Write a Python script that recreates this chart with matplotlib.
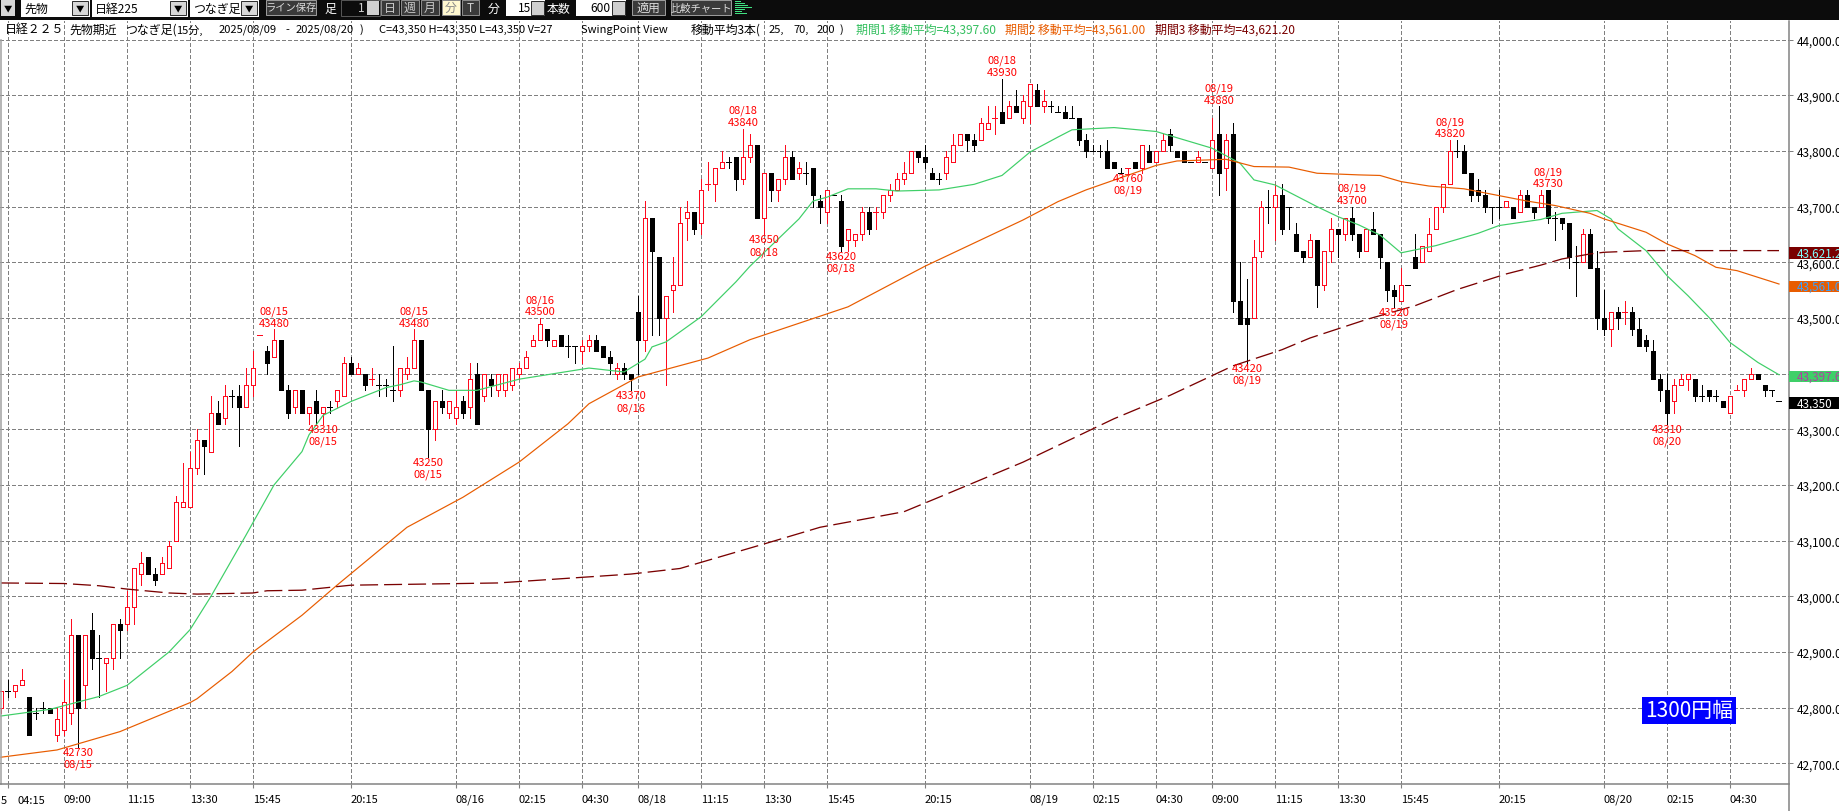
import matplotlib
matplotlib.use('Agg')
import matplotlib.pyplot as plt
from matplotlib.patches import Rectangle
import numpy as np

plt.rcParams['font.family'] = ['Noto Sans CJK JP', 'DejaVu Sans']
plt.rcParams['lines.scale_dashes'] = False

# ── 15 minute bars, first one sits just left of the first grid line ──
opens = [
    42800,42830,42830,42840,42820,42790,42800,42800,42750,42760,
    42790,42930,42840,42940,42890,42880,42890,42950,42950,42980,
    43040,43070,43040,43040,43050,43100,43160,43160,43230,43280,
    43260,43330,43320,43360,43360,43340,43380,43470,43440,43430,
    43460,43370,43340,43370,43330,43350,43330,43340,43350,43360,
    43420,43400,43400,43390,43380,43380,43370,43370,43400,43410,
    43460,43370,43300,43350,43330,43320,43350,43340,43400,43360,
    43390,43370,43370,43380,43400,43410,43450,43460,43480,43450,
    43470,43450,43450,43440,43450,43460,43450,43430,43400,43410,
    43400,43510,43460,43680,43610,43500,43550,43560,43680,43690,
    43670,43740,43740,43770,43780,43790,43750,43790,43810,43680,
    43760,43730,43750,43790,43760,43760,43770,43710,43690,43720,
    43710,43640,43640,43650,43690,43690,43690,43720,43730,43750,
    43760,43800,43790,43760,43750,43760,43780,43810,43830,43820,
    43820,43840,43860,43870,43860,43880,43860,43880,43910,43880,
    43880,43870,43870,43860,43860,43820,43800,43800,43800,43780,
    43760,43770,43780,43770,43800,43780,43800,43830,43800,43800,
    43780,43780,43780,43770,43830,43770,43830,43530,43500,43500,
    43620,43700,43700,43720,43700,43650,43620,43610,43640,43560,
    43620,43660,43650,43680,43650,43620,43660,43650,43600,43550,
    43530,43560,43610,43600,43620,43660,43700,43740,43800,43800,
    43760,43730,43720,43700,43700,43700,43700,43690,43720,43700,
    43700,43730,43680,43680,43670,43600,43600,43650,43590,43500,
    43480,43510,43510,43510,43480,43460,43440,43390,43370,43350,
    43380,43390,43390,43360,43370,43360,43350,43330,43370,43370,
    43390,43400,43380,43370,43350,
]
highs = [
    42830,42850,42840,42870,42820,42800,42810,42800,42800,42850,
    42960,42930,42930,42970,42930,42890,42950,42960,43010,43050,
    43080,43070,43050,43070,43100,43180,43240,43260,43300,43280,
    43360,43350,43380,43370,43380,43410,43440,43470,43450,43480,
    43460,43380,43370,43370,43340,43370,43340,43350,43370,43430,
    43430,43420,43400,43410,43400,43390,43450,43410,43430,43480,
    43460,43370,43350,43370,43350,43370,43360,43420,43420,43400,
    43400,43400,43400,43410,43420,43440,43470,43500,43480,43460,
    43470,43470,43450,43460,43470,43470,43450,43440,43420,43420,
    43400,43540,43710,43680,43610,43540,43610,43700,43710,43690,
    43750,43780,43770,43800,43790,43790,43840,43830,43810,43760,
    43760,43750,43810,43800,43780,43780,43770,43720,43730,43720,
    43720,43660,43650,43700,43700,43700,43720,43740,43760,43780,
    43800,43800,43810,43770,43760,43800,43830,43830,43830,43830,
    43860,43880,43880,43930,43890,43910,43900,43920,43920,43910,
    43890,43880,43880,43880,43860,43830,43810,43810,43820,43780,
    43770,43770,43780,43810,43810,43800,43830,43840,43800,43800,
    43780,43800,43780,43860,43880,43830,43850,43600,43570,43640,
    43710,43730,43740,43740,43700,43670,43620,43650,43640,43620,
    43680,43660,43680,43700,43650,43660,43690,43650,43600,43560,
    43590,43560,43650,43630,43680,43700,43740,43820,43820,43810,
    43760,43750,43730,43700,43730,43710,43700,43730,43730,43700,
    43730,43730,43690,43680,43670,43630,43660,43660,43620,43550,
    43510,43520,43530,43520,43500,43470,43460,43400,43400,43390,
    43400,43400,43390,43380,43370,43370,43350,43360,43380,43390,
    43410,43400,43380,43370,43350,
]
lows = [
    42790,42820,42820,42840,42750,42780,42790,42790,42740,42750,
    42770,42730,42800,42870,42820,42830,42870,42890,42940,42950,
    43020,43040,43020,43040,43050,43100,43160,43160,43220,43220,
    43260,43310,43310,43340,43270,43340,43360,43470,43400,43430,
    43370,43320,43330,43330,43310,43310,43310,43330,43340,43360,
    43400,43400,43370,43380,43360,43360,43350,43360,43390,43410,
    43370,43250,43280,43330,43320,43310,43320,43320,43310,43350,
    43360,43360,43360,43370,43390,43410,43450,43460,43450,43450,
    43450,43430,43420,43420,43440,43440,43430,43400,43390,43390,
    43370,43400,43440,43470,43470,43380,43510,43560,43640,43650,
    43650,43730,43710,43770,43770,43730,43740,43780,43680,43650,
    43710,43710,43740,43750,43750,43740,43700,43670,43670,43720,
    43620,43620,43630,43640,43650,43660,43680,43710,43730,43740,
    43760,43780,43770,43750,43740,43750,43780,43810,43800,43800,
    43820,43840,43830,43850,43860,43870,43850,43850,43880,43870,
    43870,43870,43860,43860,43810,43790,43800,43790,43770,43770,
    43760,43760,43770,43760,43780,43780,43800,43800,43790,43780,
    43780,43780,43780,43770,43720,43730,43510,43490,43420,43500,
    43610,43670,43640,43650,43660,43620,43600,43610,43520,43550,
    43600,43610,43640,43640,43610,43620,43650,43590,43530,43520,
    43530,43560,43590,43600,43620,43660,43690,43740,43790,43760,
    43710,43710,43690,43670,43680,43700,43680,43690,43700,43680,
    43700,43670,43640,43660,43590,43540,43600,43590,43480,43470,
    43450,43480,43490,43470,43450,43440,43390,43350,43310,43330,
    43380,43370,43350,43350,43350,43350,43340,43330,43370,43360,
    43390,43390,43360,43360,43350,
]
closes = [
    42830,42830,42840,42850,42750,42790,42800,42790,42780,42810,
    42930,42800,42930,42890,42890,42890,42950,42940,42980,43050,
    43060,43040,43030,43060,43090,43170,43170,43230,43280,43270,
    43330,43310,43360,43360,43340,43380,43410,43470,43420,43460,
    43370,43330,43370,43330,43340,43330,43340,43340,43370,43420,
    43400,43410,43380,43390,43380,43380,43370,43410,43410,43460,
    43370,43300,43350,43340,43350,43340,43330,43390,43310,43400,
    43380,43400,43400,43410,43410,43430,43460,43490,43460,43460,
    43450,43450,43450,43450,43460,43440,43430,43420,43410,43400,
    43390,43460,43680,43620,43500,43540,43560,43670,43690,43660,
    43730,43740,43770,43780,43780,43750,43790,43810,43680,43760,
    43730,43750,43790,43750,43770,43760,43720,43700,43730,43720,
    43630,43660,43650,43690,43660,43690,43720,43730,43750,43760,
    43800,43790,43780,43750,43750,43790,43810,43830,43820,43810,
    43850,43850,43860,43850,43880,43870,43890,43920,43880,43890,
    43880,43870,43860,43860,43820,43800,43800,43800,43770,43770,
    43760,43770,43770,43810,43780,43800,43820,43810,43790,43780,
    43780,43790,43780,43820,43760,43820,43530,43490,43490,43610,
    43700,43700,43720,43660,43700,43620,43610,43640,43560,43620,
    43660,43650,43680,43650,43620,43660,43650,43610,43550,43540,
    43560,43560,43590,43630,43650,43700,43740,43800,43800,43760,
    43720,43720,43700,43700,43700,43710,43680,43720,43700,43690,
    43720,43680,43680,43670,43610,43600,43650,43590,43500,43480,
    43510,43500,43510,43480,43450,43450,43390,43370,43330,43380,
    43390,43400,43360,43360,43360,43360,43340,43360,43370,43390,
    43400,43390,43370,43370,43350,
]
red_doji = [36, 52, 100, 124, 141, 160, 231, 247]

# ── moving averages at these bars ──
ma25_idx = [-1,6,13,17,23,26,29,34,38,42,43,45,49,51,54,56,58,59,63,67,73,83,88,91,92,94,99,104,106,
            113,115,117,120,124,127,133,138,142,146,150,152,158,164,168,172,176,178,181,187,190,193,
            196,199,204,210,213,219,222,227,229,230,234,237,240,243,246,250,253]
ma25_val = [42785,42797,42820,42840,42900,42940,43000,43110,43200,43260,43290,43325,43350,43360,43375,43380,43387,43385,43370,43370,43390,43410,43403,43426,43448,43457,43502,43565,43593,
            43678,43710,43717,43732,43732,43728,43730,43740,43756,43798,43825,43838,43842,43835,43820,43805,43778,43748,43739,43700,43682,43667,
            43649,43617,43630,43652,43666,43677,43688,43693,43678,43660,43621,43576,43540,43501,43456,43420,43398]
ma70_idx = [-1,7,16,26,27,32,35,42,47,57,65,73,80,83,90,100,106,120,131,145,150,154,164,167,174,178,183,187,
            193,196,199,203,208,217,221,226,228,234,237,241,244,247,250,253]
ma70_val = [42711,42724,42757,42809,42816,42865,42900,42966,43020,43124,43178,43241,43310,43346,43394,43428,43461,43520,43593,43676,43709,43730,43774,43782,43785,43772,43771,43760,
            43757,43756,43745,43737,43732,43710,43702,43688,43678,43654,43633,43612,43591,43585,43573,43561]
ma200_idx = [-1,8,13,17,23,27,35,37,42,49,70,89,96,108,116,128,133,145,158,166,175,182,186,194,201,
             207,214,219,222,226,228,234,253]
ma200_val = [43024,43023,43019,43013,43006,43004,43006,43010,43011,43020,43024,43040,43050,43094,43124,43152,43178,43241,43319,43361,43414,43443,43464,43497,43522,
             43551,43579,43595,43606,43615,43618,43621,43621]

# ── swing labels ──
swing_high_idx = [38, 58, 76, 105, 142, 173, 192, 206, 220]
swing_high_val = [43480, 43480, 43500, 43840, 43930, 43880, 43700, 43820, 43730]
swing_high_day = ['08/15', '08/15', '08/16', '08/18', '08/18', '08/19', '08/19', '08/19', '08/19']
swing_low_idx = [10, 45, 60, 89, 108, 119, 160, 177, 198, 237]
swing_low_val = [42730, 43310, 43250, 43370, 43650, 43620, 43760, 43420, 43520, 43310]
swing_low_day = ['08/15', '08/15', '08/15', '08/16', '08/18', '08/18', '08/19', '08/19', '08/19', '08/20']

# ── axis labels ──
tick_idx = [0,8,17,26,35,49,64,73,82,90,99,108,117,131,146,155,164,172,181,190,199,213,228,237,246]
tick_labels = ['', '09:00', '11:15', '13:30', '15:45', '20:15', '08/16', '02:15', '04:30', '08/18',
               '11:15', '13:30', '15:45', '20:15', '08/19', '02:15', '04:30', '09:00', '11:15',
               '13:30', '15:45', '20:15', '08/20', '02:15', '04:30']
price_ticks = [42700,42800,42900,43000,43100,43200,43300,43400,43500,43600,43700,43800,43900,44000]

GREEN = '#3fcf68'
ORANGE = '#e85c00'
DARKRED = '#7a0000'
RED = '#ff0a1e'
GRID = '#808080'
PX = 0.72  # 1 pixel in points at dpi 100

fig = plt.figure(figsize=(18.4, 8.12), dpi=100, facecolor='white')
ax = fig.add_axes([0, 1 - 785 / 812, 1788.7 / 1840, (785 - 22) / 812])

opens, highs, lows, closes = map(np.array, (opens, highs, lows, closes))
x = np.arange(len(opens)) - 1
up = closes > opens
down = closes < opens
flat = closes == opens
wick_col = [RED if (c > o or i in red_doji) else 'black' for i, o, c in zip(x, opens, closes)]

ax.set_xlim(-8 / 7, (1788.7 - 8) / 7)
ax.set_ylim(43600 - (785 - 263.3) / 0.5567, 43600 + (263.3 - 22) / 0.5567)

ax.vlines(x, lows, highs, colors=wick_col, lw=PX, zorder=2, antialiased=False)
ax.bar(x[up], (closes - opens)[up], bottom=opens[up], width=4 / 7, facecolor='white',
       edgecolor=RED, linewidth=PX, zorder=2.1, antialiased=False)
ax.bar(x[down], (opens - closes)[down], bottom=closes[down], width=4 / 7, facecolor='black',
       edgecolor='black', linewidth=PX, zorder=2.1, antialiased=False)
flat_col = [wick_col[i] for i in np.where(flat)[0]]
ax.hlines(closes[flat], x[flat] - 2.5 / 7, x[flat] + 2.5 / 7, colors=flat_col, lw=PX, zorder=2.1,
          antialiased=False)

ax.plot(ma25_idx, ma25_val, color=GREEN, lw=PX * 1.2, zorder=3)
ax.plot(ma70_idx, ma70_val, color=ORANGE, lw=PX * 1.2, zorder=3)
ax.plot(ma200_idx, ma200_val, color=DARKRED, lw=PX * 1.3, zorder=3, ls=(0, (18 * PX, 6 * PX)))

for i, v, d in zip(swing_high_idx, swing_high_val, swing_high_day):
    ax.annotate(str(v), (i, v), xytext=(0, 6.5 * PX), textcoords='offset points', ha='center',
                va='center', color='#ff0000', fontsize=8, zorder=4)
    ax.annotate(d, (i, v), xytext=(0, 18.5 * PX), textcoords='offset points', ha='center',
                va='center', color='#ff0000', fontsize=8, zorder=4)
for i, v, d in zip(swing_low_idx, swing_low_val, swing_low_day):
    ax.annotate(str(v), (i, v), xytext=(0, -5 * PX), textcoords='offset points', ha='center',
                va='center', color='#ff0000', fontsize=8, zorder=4)
    ax.annotate(d, (i, v), xytext=(0, -17 * PX), textcoords='offset points', ha='center',
                va='center', color='#ff0000', fontsize=8, zorder=4)

ax.set_axisbelow(True)
ax.grid(True, color=GRID, lw=PX, ls=(0, (4 * PX, 2.5 * PX)), antialiased=False)
for s in ax.spines.values():
    s.set_visible(False)
ax.set_xticks(tick_idx, tick_labels, fontsize=8, ha='left')
ax.tick_params(axis='x', length=3, color=GRID, pad=4)
ax.yaxis.tick_right()
ax.set_yticks(price_ticks, [f'{p:,.1f}' for p in price_ticks], fontsize=8.4)
ax.tick_params(axis='y', length=3, width=PX, color=GRID, pad=3)

# ── window chrome, drawn in image pixels ──
ui = fig.add_axes([0, 0, 1, 1], facecolor='none')
ui.set_xlim(0, 1840)
ui.set_ylim(812, 0)
ui.axis('off')


def box(x0, y0, x1, y1, fc, ec='none', z=5):
    ui.add_patch(Rectangle((x0, y0), x1 - x0, y1 - y0, facecolor=fc, edgecolor=ec, lw=PX, zorder=z))


def label(px, py, s, color='black', size=8.6, ha='left', z=6):
    ui.text(px, py, s, color=color, fontsize=size, ha=ha, va='center', zorder=z)


# frame lines
ui.plot([0.5, 0.5], [41, 785], color='#a0a0a0', lw=PX * 1.5, zorder=3)
ui.plot([0, 1788.7], [785, 785], color=GRID, lw=PX * 1.5, zorder=3)
ui.plot([1788.7, 1788.7], [22, 812], color=GRID, lw=PX * 1.5, zorder=3)

# toolbar
box(0, 0, 1840, 21, '#0c0c0c', z=4)
box(1, 1, 15, 17, '#d8d8d8')
label(8, 9, '▼', size=6, ha='center')
for x0, x1, text in [(21, 90, '先物'), (92, 188, '日経225'), (190, 259, 'つなぎ足')]:
    box(x0, 0, x1, 18, 'white')
    label(x0 + 3, 9, text)
    box(x1 - 18, 2, x1 - 2, 16, '#d8d8d8', '#303030')
    label(x1 - 10, 9, '▼', size=6, ha='center')
box(266, 1, 316, 16, '#3a3a3a', '#9a9a9a')
label(291, 8.5, 'ライン保存', color='#dddddd', size=7.4, ha='center')
label(324, 9, '足', color='white')
box(341, 1, 380, 17, '#0c0c0c', '#555555')
label(365, 9, '1', color='#cccccc', ha='right')
box(367, 2, 379, 16, '#cfcfcf')
for x0, x1, text, fc, col in [(381, 399, '日', '#3a3a3a', '#cccccc'), (401, 419, '週', '#3a3a3a', '#cccccc'),
                              (421, 439, '月', '#3a3a3a', '#cccccc'), (442, 460, '分', '#fff8d0', '#888888'),
                              (462, 479, 'T', '#3a3a3a', '#cccccc')]:
    box(x0, 1, x1, 16, fc, '#8a8a8a')
    label((x0 + x1) / 2, 8.5, text, color=col, ha='center')
label(488, 9, '分', color='white')
box(506, 1, 545, 17, 'white')
label(531, 9, '15', ha='right')
box(531, 2, 544, 16, '#cfcfcf', '#303030')
label(547, 9, '本数', color='white')
box(576, 1, 626, 17, 'white')
label(611, 9, '600', ha='right')
box(612, 2, 625, 16, '#cfcfcf', '#303030')
box(632, 1, 665, 16, '#3a3a3a', '#9a9a9a')
label(648.5, 8.5, '適用', color='#dddddd', ha='center')
box(671, 1, 731, 16, '#3a3a3a', '#9a9a9a')
label(701, 8.5, '比較チャート', color='#dddddd', size=7.4, ha='center')
for k, w in enumerate([6, 10, 13, 17, 10, 7, 12]):
    box(735, 2 + k * 2, 735 + w, 3 + k * 2, '#40e080')

# header line, pieces placed one by one to keep the wide spacing of the original
for px, s, col in [(5, '日経２２５', 'black'), (69, '先物期近', 'black'), (125, 'つなぎ足(', 'black'),
                   (176, '15分,', 'black'), (219, '2025/08/09', 'black'), (285, '-', 'black'),
                   (296, '2025/08/20', 'black'), (360, ')', 'black'),
                   (379, 'C=43,350 H=43,350 L=43,350 V=27', 'black'), (581, 'SwingPoint View', 'black'),
                   (691, '移動平均3本(', 'black'), (769, '25,', 'black'), (793, '70,', 'black'),
                   (817, '200', 'black'), (840, ')', 'black'),
                   (856, '期間1 移動平均=43,397.60', '#35c060'), (1005, '期間2 移動平均=43,561.00', ORANGE),
                   (1155, '期間3 移動平均=43,621.20', DARKRED)]:
    sz = 8.0 if s[0] in '1-2)C7S' else 8.6
    label(px, 30, s, color=col, size=sz, z=3)

# first time label, cut off at the left edge
label(1, 801, '5', size=8)
label(18, 801, '04:15', size=8)

# latest-value tags on the price scale
for y0, y1, fc, col, s in [(248, 260, DARKRED, '#80ffff', '43,621.2'), (282, 293, ORANGE, '#3aa0ff', '43,561.0'),
                           (372, 383, GREEN, '#b040a0', '43,397.6'), (398, 410, 'black', 'white', '43,350')]:
    box(1789, y0, 1840, y1, fc)
    label(1797, (y0 + y1) / 2, s, color=col, size=8.4)

# range box
box(1642, 698, 1736, 725, '#0000ff')
label(1689, 711, '1300円幅', color='white', size=15, ha='center')

fig.savefig('out.png', dpi=100, facecolor='white')
